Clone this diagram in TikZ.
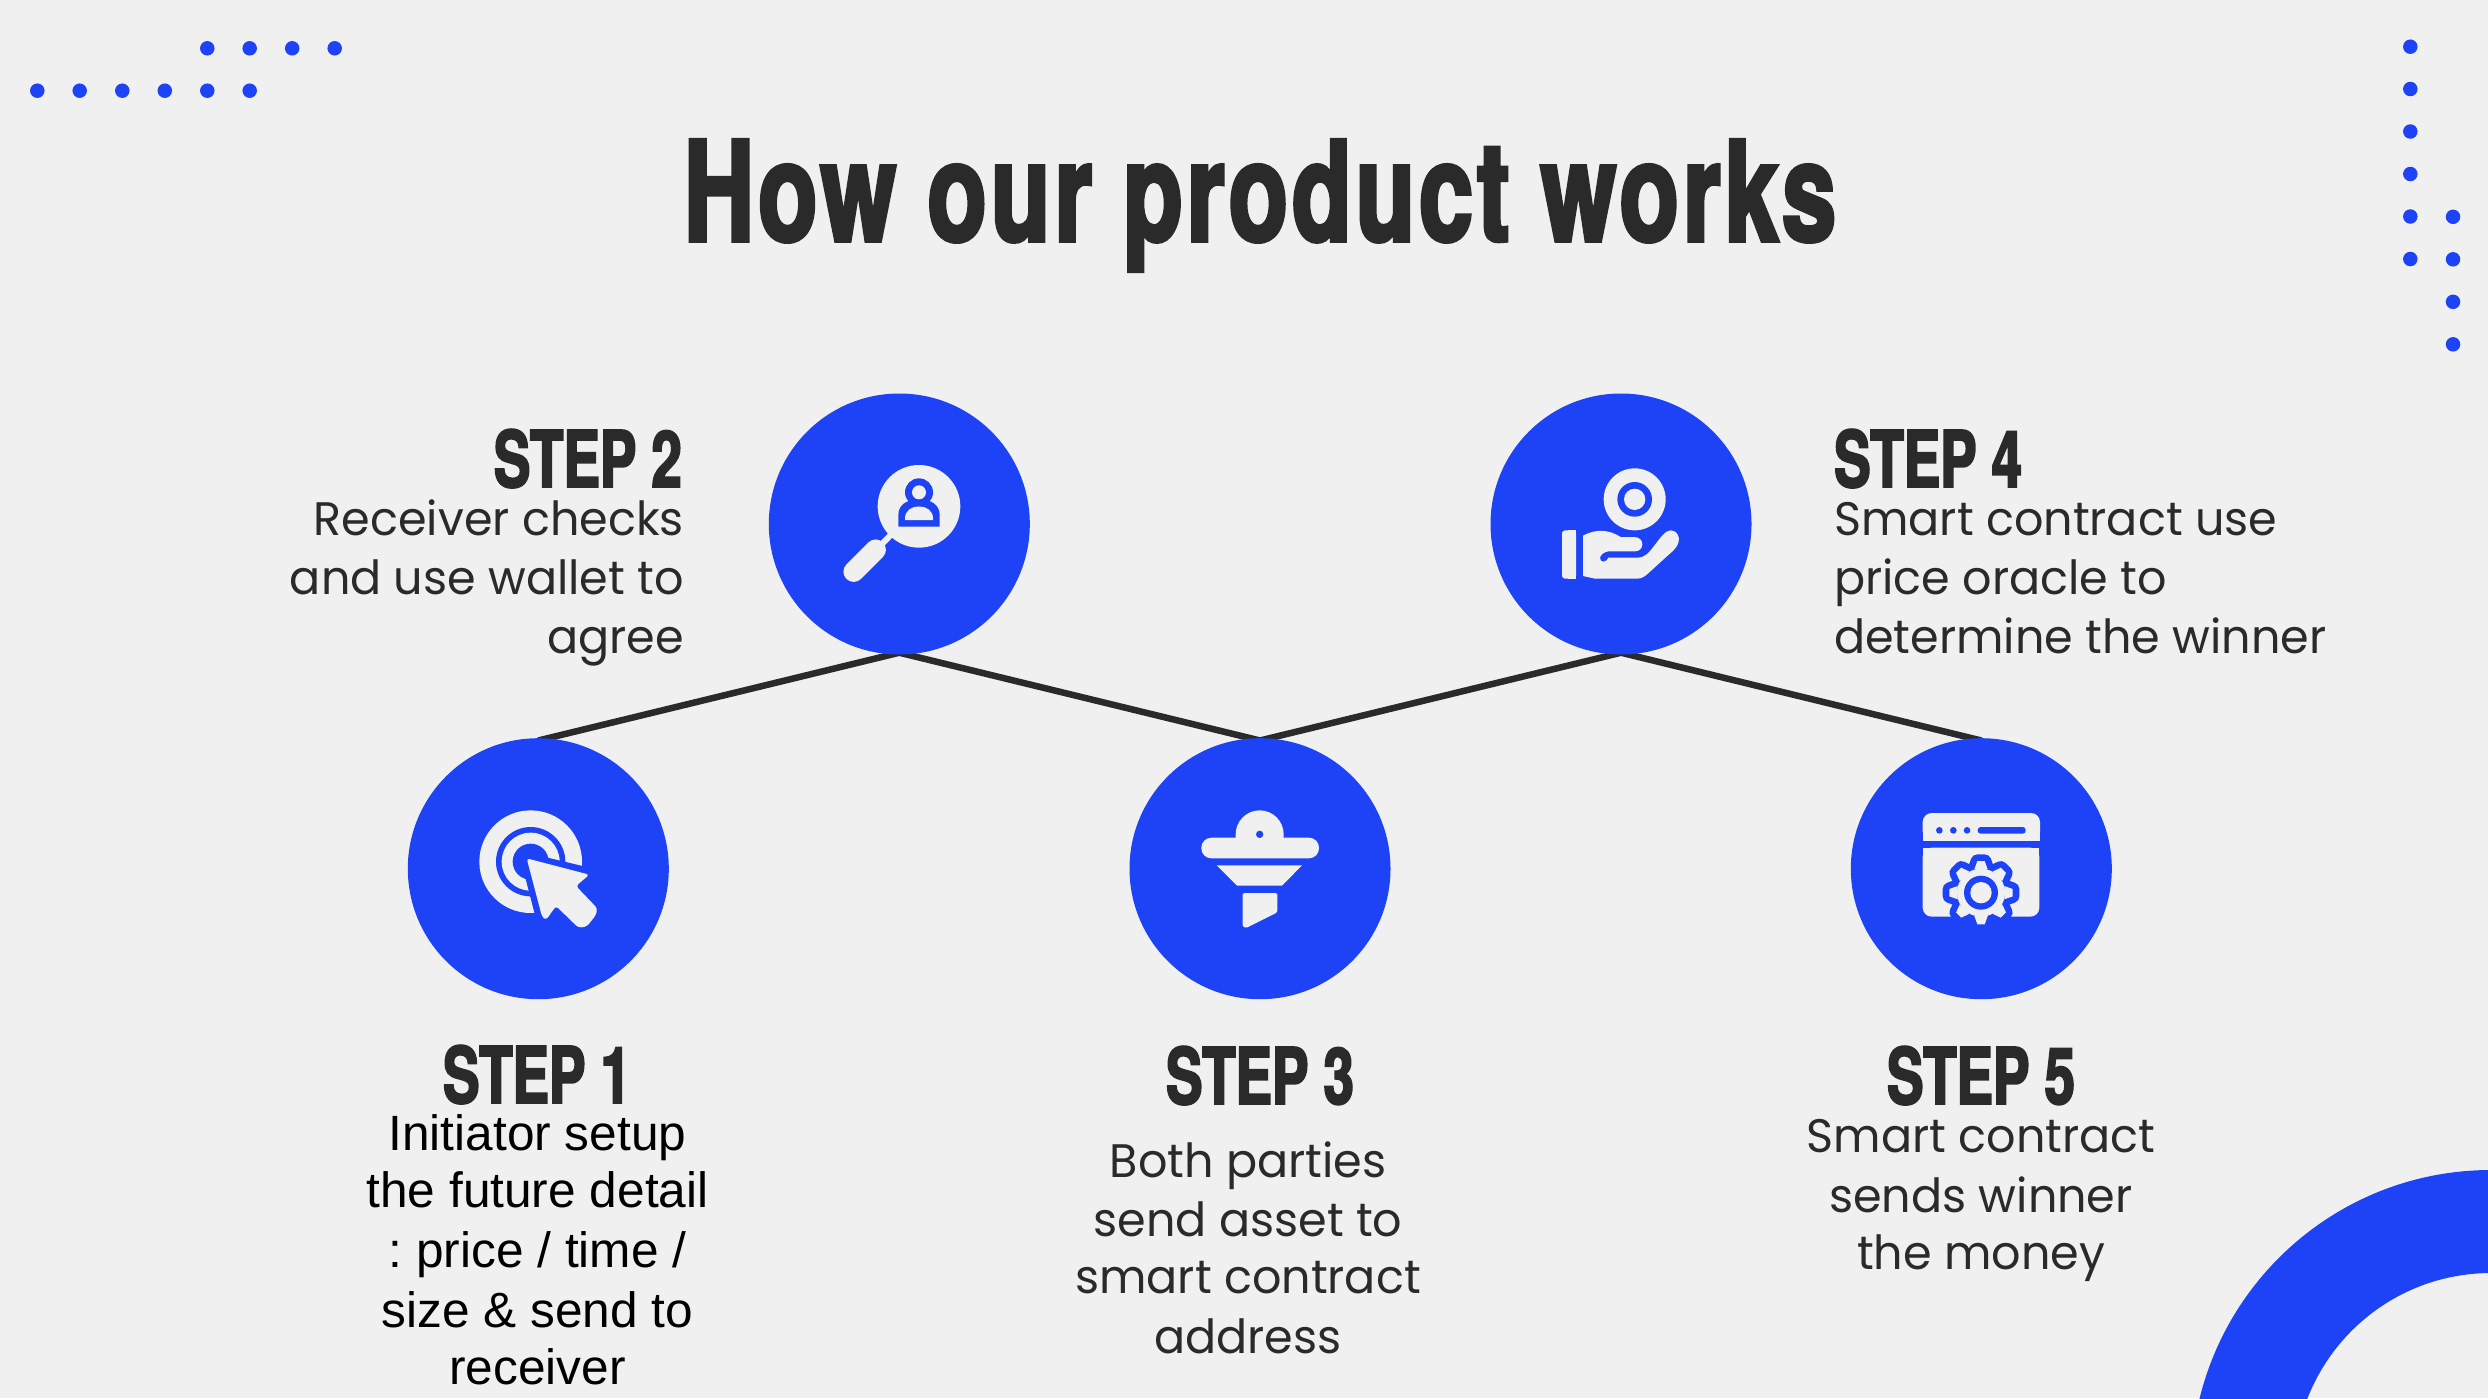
\documentclass[tikz,border=0pt]{standalone}
\usepackage{fontspec}
\setmainfont{Liberation Sans}
\newfontfamily\headfont{TeX Gyre Heros}[FakeStretch=0.70,FakeBold=2.5]
\newfontfamily\titlefont{TeX Gyre Heros}[FakeStretch=0.70,FakeBold=2.5,LetterSpace=2.9]
\newfontfamily\bodyfont{Poppins}[FakeStretch=0.98]
\newfontfamily\arialfont{Liberation Sans}
\definecolor{bgc}{HTML}{F0F0F0}
\definecolor{blu}{HTML}{1E42F6}
\definecolor{ink}{HTML}{2A2A2A}
\pgfdeclarelayer{back}
\pgfsetlayers{back,main}
\tikzset{
  x=1pt,y=-1pt,
  stepcircle/.style={circle,fill=blu,draw=none,inner sep=0pt,minimum size=261pt},
  link/.style={draw=ink,line width=6.5pt},
  deco/.style={circle,fill=blu,draw=none,inner sep=0pt,minimum size=14.5pt},
  heading/.style={anchor=base,inner sep=0pt,text=ink,font=\headfont\bfseries\fontsize{78}{90}\selectfont},
  bodytext/.style={anchor=north,inner sep=0pt,text=ink,font=\bodyfont\fontsize{47}{58}\selectfont},
  arialtext/.style={anchor=north,inner sep=0pt,text=black,font=\arialfont\fontsize{49.6}{57}\selectfont},
  ic/.style={fill=bgc,draw=none},
  icb/.style={fill=blu,draw=none},
  zoomed/.style={shift={(#1)},x=0.33333pt,y=-0.33333pt}
}
\newcommand{\fl}{\rule{0pt}{40pt}}
\begin{document}
\frenchspacing
\begin{tikzpicture}
\begin{pgfonlayer}{back}
\fill[bgc] (0,0) rectangle (2488,1398);
\end{pgfonlayer}
\useasboundingbox (0,0) rectangle (2488,1398);
% decoration dots
\foreach \px [count=\i] in {37.3,79.7,122.3,164.8,207.3,249.7} \node[deco] (tla\i) at (\px,90.7) {};
\foreach \px [count=\i] in {207.3,249.7,292.2,334.7} \node[deco] (tlb\i) at (\px,48.3) {};
\foreach \py [count=\i] in {46.7,89,131.5,174,216.5,259} \node[deco] (tra\i) at (2410.3,\py) {};
\foreach \py [count=\i] in {216.8,259.3,301.8,344.3} \node[deco] (trb\i) at (2453,\py) {};
% corner arc
\begin{scope}
\clip (2100,1100) rectangle (2488,1398);
\fill[blu,even odd rule] (2491,1470) circle[radius=300] (2491,1470) circle[radius=197];
\end{scope}
% title
\node[anchor=base,inner sep=0pt,text=ink,font=\titlefont\bfseries\fontsize{139}{160}\selectfont] (title) at (1260,241) {How our product works};
% circles
\node[stepcircle] (s1) at (538.3,868.7) {};
\node[stepcircle] (s2) at (899.3,524) {};
\node[stepcircle] (s3) at (1260,868.7) {};
\node[stepcircle] (s4) at (1621,524) {};
\node[stepcircle] (s5) at (1981.3,868.7) {};
\begin{pgfonlayer}{back}
\draw[link] ([yshift=-2.5pt]s1.north) -- ([yshift=2pt]s2.south);
\draw[link] ([yshift=2pt]s2.south) -- ([yshift=-2.5pt]s3.north);
\draw[link] ([yshift=-2.5pt]s3.north) -- ([yshift=2pt]s4.south);
\draw[link] ([yshift=2pt]s4.south) -- ([yshift=-2.5pt]s5.north);
\end{pgfonlayer}
% headings
\node[heading,anchor=base east] (h2) at (682,487) {STEP 2};
\node[heading,anchor=base west] (h4) at (1834,487) {STEP 4};
\node[heading] (h1) at (537,1103) {STEP 1};
\node[heading] (h3) at (1260,1104) {STEP 3};
\node[heading] (h5) at (1981,1104) {STEP 5};
% body text
\node[bodytext,anchor=north east,align=right] (b2) at (684,495) {\fl Receiver checks\\[1.5pt]and use wallet to\\[0.5pt]agree};
\node[bodytext,anchor=north west,align=left] (b4) at (1834,495) {\fl Smart contract use\\[1.5pt]price oracle to\\[0.5pt]determine the winner};
\node[arialtext,align=center] (b1) at (537.5,1110) {\fl Initiator setup\\[0pt]the future detail\\[3pt]: price / time /\\[3pt]size \& send to\\[0pt]receiver};
\node[bodytext,align=center] (b3) at (1248,1137) {\fl Both parties\\[1pt]send asset to\\[-1pt]smart contract\\[2pt]address};
\node[bodytext,align=center] (b5) at (1981,1112) {\fl Smart contract\\[2pt]sends winner\\[-1pt]the money};
% icon step 2
\begin{scope}[zoomed={760,390}]
\fill[ic] (477,349) circle[radius=124];
\draw[bgc,line width=6pt] (395,432) -- (350,478);
\draw[bgc,line width=20.5pt,line cap=round] (347,479) -- (281,545);
\fill[icb] (415,410) -- (415,375) .. controls (415,345) and (440,328) .. (477,328) .. controls (514,328) and (539,345) .. (539,375) -- (539,410) -- cycle;
\fill[ic] (435,390) -- (435,385) .. controls (435,362) and (455,349) .. (477,349) .. controls (499,349) and (519,362) .. (519,385) -- (519,390) -- cycle;
\fill[icb] (477,307) circle[radius=42];
\fill[ic] (477,307) circle[radius=21];
\end{scope}
% icon step 4
\begin{scope}[zoomed={1480,390}]
\fill[ic] (464,328) circle[radius=93];
\fill[icb] (464,328) circle[radius=52];
\fill[ic] (464,328) circle[radius=32];
\fill[ic,rounded corners=3pt] (246,421) rectangle (288,566);
\fill[ic] (265,421) rectangle (288,566);
\fill[ic] (309,437) .. controls (345,417) and (385,417) .. (422,441) -- (462,441)
 .. controls (478,441) and (487,451) .. (487,463) .. controls (487,475) and (478,484) .. (465,484)
 -- (385,484) .. controls (372,486) and (360,495) .. (360,505) .. controls (362,520) and (380,517) .. (385,503)
 -- (470,503) .. controls (495,503) and (505,490) .. (522,468) .. controls (540,445) and (555,421) .. (572,421)
 .. controls (590,421) and (600,440) .. (596,455) .. controls (592,472) and (580,482) .. (565,495)
 -- (510,545) .. controls (495,560) and (485,566) .. (470,566) -- (345,566) -- (309,558) -- cycle;
\end{scope}
% icon step 1
\begin{scope}[zoomed={400,730}]
\fill[ic] (392,395) circle[radius=154];
\fill[icb] (392,395) circle[radius=104];
\fill[ic] (392,395) circle[radius=87];
\fill[icb] (392,395) circle[radius=54];
\fill[icb] (355,362) -- (640,430) -- (640,640) -- (427,640) -- cycle;
\fill[ic,rounded corners=3pt] (380,385) -- (568,434) -- (528,468) -- (592,535) -- (588,555) -- (560,590) -- (535,593) -- (468,528) -- (438,570) -- (426,560) -- cycle;
\end{scope}
% icon step 3
\begin{scope}[zoomed={1120,730}]
\fill[ic] (347,325) -- (347,313) arc[start angle=180,end angle=360,x radius=72,y radius=72] -- (491,325) -- cycle;
\fill[ic,rounded corners=10pt] (244,323) rectangle (597,385);
\fill[icb] (419,313) circle[radius=11];
\fill[ic] (290,406) -- (546,406) -- (486,467) -- (351,467) -- cycle;
\fill[ic,rounded corners=1.5pt] (368,489) -- (472,489) -- (472,547) -- (378,594) -- (368,590) -- cycle;
\end{scope}
% icon step 5
\begin{scope}[zoomed={1840,730}]
\fill[ic,rounded corners=9pt] (248,249) rectangle (600,332);
\fill[ic] (248,295) rectangle (600,332);
\foreach \dx in {298,340,381} \fill[icb] (\dx,301) circle[radius=10];
\fill[icb,rounded corners=3pt] (413,291) rectangle (557,311);
\fill[ic,rounded corners=9pt] (248,353) rectangle (598,560);
\fill[ic] (248,353) rectangle (598,450);
\foreach \k in {0,45,...,315} {
  \begin{scope}[shift={(423,488)},rotate=\k]
  \draw[blu,fill=blu,line width=13.3pt,line join=round] (-20,-70) -- (-11,-95) -- (11,-95) -- (20,-70) -- cycle;
  \end{scope}
}
\fill[icb] (423,488) circle[radius=92];
\foreach \k in {0,45,...,315} {
  \begin{scope}[shift={(423,488)},rotate=\k]
  \fill[ic] (-20,-70) -- (-11,-95) -- (11,-95) -- (20,-70) -- cycle;
  \end{scope}
}
\fill[ic] (423,488) circle[radius=72];
\fill[icb] (423,488) circle[radius=51];
\fill[ic] (423,488) circle[radius=32];
\end{scope}
\end{tikzpicture}
\end{document}
